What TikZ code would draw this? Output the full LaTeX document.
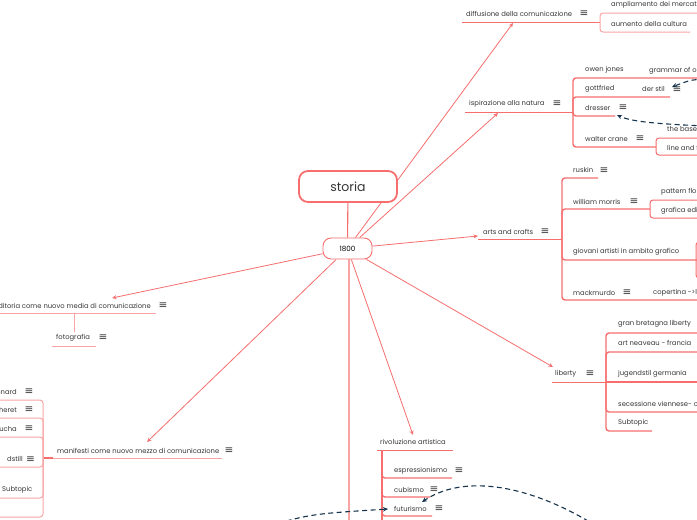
\documentclass[tikz,border=0pt]{standalone}
\usepackage{fontspec}
\setmainfont{Poppins}
\newfontfamily\symf{DejaVu Sans}
\usetikzlibrary{arrows.meta,backgrounds}
\definecolor{ml}{RGB}{246,110,110}
\definecolor{mlt}{RGB}{250,165,165}
\definecolor{nv}{RGB}{22,52,78}
\definecolor{tx}{RGB}{55,55,55}
\tikzset{
 lbl/.style={anchor=west,inner sep=0pt,text=tx,font=\fontsize{6.8}{8}\selectfont},
 lble/.style={lbl,anchor=east},
 ham/.style={inner sep=0pt,text=tx,font=\symf\fontsize{10.5}{10}\selectfont},
 conn/.style={draw=ml,line width=0.8pt,-{Stealth[length=4.5pt,width=4pt]}},
 uline/.style={draw=ml,line width=1pt,rounded corners=3pt},
 ulight/.style={draw=mlt,line width=1pt,rounded corners=3pt},
 bar/.style={draw=ml,line width=1.4pt,rounded corners=3pt},
 dlink/.style={draw=nv,line width=1.1pt,dash pattern=on 5pt off 3.5pt,-{Stealth[length=5pt,width=4.5pt]}},
}
\begin{document}
\begin{tikzpicture}[x=1pt,y=-1pt]
\useasboundingbox (0,0) rectangle (697,520);
\clip (0,0) rectangle (697,520);
% central nodes
\node[draw=ml,line width=1.8pt,fill=white,rounded corners=9pt,minimum width=98pt,minimum height=31pt,inner sep=0pt,text=tx,font=\fontsize{12.5}{14}\selectfont] (storia) at (348,186.5) {storia};
\node[draw=ml,line width=0.9pt,fill=white,rounded corners=8pt,minimum width=49pt,minimum height=21pt,inner sep=0pt,text=black,font=\fontsize{7.2}{8}\selectfont] (n1800) at (347.5,248.5) {1800};
% targets
\coordinate (tdiff) at (513,23);
\coordinate (tisp) at (498,113);
\coordinate (tarts) at (478,236);
\coordinate (tlib) at (553,367);
\coordinate (triv) at (413,435);
\coordinate (tman) at (147,442);
\coordinate (tedi) at (112,298);
\coordinate (tdown) at (349,540);
\begin{scope}[on background layer]
\fill[white] (0,0) rectangle (697,520);
\draw[draw=ml,line width=1.1pt] (storia) -- (n1800);
\draw[conn] (n1800) -- (tdiff);
\draw[conn] (n1800) -- (tisp);
\draw[conn] (n1800) -- (tarts);
\draw[conn] (n1800) -- (tlib);
\draw[conn] (n1800) -- (triv);
\draw[conn] (n1800) -- (tman);
\draw[conn] (n1800) -- (tedi);
\draw[draw=mlt,line width=1.3pt] (n1800.south -| tdown) -- (tdown);
\end{scope}
% ---------- diffusione
\node[lbl] (diff) at (466,14) {diffusione della comunicazione};
\node[ham] (hdiff) at (584,14) {≡};
\node[lbl] (ampl) at (611,5) {ampliamento dei mercati};
\node[lbl] (aum) at (611,24) {aumento della cultura};
\draw[uline] (462,22) -- (600,22);
\draw[ulight] (697,13) -- (600,13) -- (600,32) -- (690,32);
% ---------- ispirazione
\node[lbl] (isp) at (469,104) {ispirazione alla natura};
\node[ham] (hisp) at (557,104) {≡};
\node[lbl] (owen) at (585,70) {owen jones};
\node[lbl] (gram) at (649,71) {grammar of ornament};
\node[lbl] (gott) at (585,89) {gottfried};
\node[lbl] (der) at (642,89) {der stil};
\node[ham] (hder) at (677,90) {≡};
\node[lbl] (dres) at (585,108) {dresser};
\node[ham] (hdres) at (623,108) {≡};
\node[lbl] (walt) at (585,139) {walter crane};
\node[ham] (hwalt) at (640,139) {≡};
\node[lbl] (bases) at (667,129) {the bases};
\node[lbl] (linet) at (667,148) {line and form};
\draw[uline] (465,112) -- (573,112);
\draw[bar] (573,112) -- (573,78) -- (697,78);
\draw[bar] (573,112) -- (573,97) -- (670,97);
\draw[bar] (573,112) -- (573,116) -- (615,116);
\draw[bar] (573,112) -- (573,147) -- (656,147);
\draw[uline] (697,138) -- (656,138) -- (656,155) -- (697,155);
% ---------- arts and crafts
\node[lbl] (arts) at (483,232) {arts and crafts};
\node[ham] (harts) at (545,232) {≡};
\node[lbl] (rusk) at (573,170) {ruskin};
\node[ham] (hrusk) at (604,171) {≡};
\node[lbl] (wm) at (573,202) {william morris};
\node[ham] (hwm) at (634,202) {≡};
\node[lbl] (patt) at (661,192) {pattern floreali};
\node[lbl] (graf) at (661,211) {grafica editoriale};
\node[lbl] (giov) at (573,252) {giovani artisti in ambito grafico};
\node[lbl] (mack) at (573,293) {mackmurdo};
\node[ham] (hmack) at (627,293) {≡};
\node[lbl] (cop) at (653,293) {copertina ->libro};
\draw[uline] (478,239) -- (562,239);
\draw[bar] (562,239) -- (562,178) -- (598,178);
\draw[bar] (562,239) -- (562,209) -- (650,209);
\draw[bar] (562,239) -- (562,260) -- (700,260);
\draw[bar] (562,239) -- (562,300) -- (700,300);
\draw[uline] (697,200) -- (650,200) -- (650,218) -- (697,218);
\draw[uline] (705,242) -- (696,242) -- (696,278) -- (705,278);
% ---------- liberty
\node[lbl] (lib) at (555,374) {liberty};
\node[ham] (hlib) at (590,374) {≡};
\node[lbl] (gb) at (618,324) {gran bretagna liberty};
\node[lbl] (an) at (618,343) {art neaveau - francia};
\node[lbl] (jug) at (618,374) {jugendstil germania};
\node[lbl] (sec) at (618,404) {secessione viennese- c};
\node[lbl] (sub1) at (618,423) {Subtopic};
\draw[uline] (552,382) -- (606,382);
\draw[bar] (606,382) -- (606,333) -- (700,333);
\draw[bar] (606,382) -- (606,352) -- (700,352);
\draw[bar] (606,382) -- (700,382);
\draw[bar] (606,382) -- (606,412) -- (700,412);
\draw[bar] (606,382) -- (606,431) -- (652,431);
% ---------- rivoluzione artistica
\node[lbl] (riv) at (380,442) {rivoluzione artistica};
\node[lbl] (esp) at (394,471) {espressionismo};
\node[ham] (hesp) at (459,471) {≡};
\node[lbl] (cub) at (394,490) {cubismo};
\node[ham] (hcub) at (434,490) {≡};
\node[lbl] (fut) at (394,509) {futurismo};
\node[ham] (hfut) at (439,509) {≡};
\draw[uline] (377,450) -- (453,450);
\draw[bar] (382,450) -- (382,530);
\draw[bar] (382,450) -- (382,478) -- (452,478);
\draw[bar] (382,450) -- (382,497) -- (430,497);
\draw[bar] (382,450) -- (382,516) -- (432,516);
% ---------- editoria
\node[lble] (edi) at (151,306) {editoria come nuovo media di comunicazione};
\node[ham] (hedi) at (163,306) {≡};
\node[lbl] (foto) at (56,338) {fotografia};
\node[ham] (hfoto) at (103,338) {≡};
\draw[ulight] (-5,313) -- (156,313);
\draw[ulight] (74,313) -- (74,332);
\draw[ulight] (52,346) -- (96,346);
% ---------- manifesti
\node[lbl] (man) at (57,451) {manifesti come nuovo mezzo di comunicazione};
\node[ham] (hman) at (229,451) {≡};
\node[lble] (bon) at (17,392) {nnard};
\node[ham] (hbon) at (29,392) {≡};
\node[lble] (che) at (17,410) {heret};
\node[ham] (hche) at (29,410) {≡};
\node[lble] (muc) at (17,429) {ucha};
\node[ham] (hmuc) at (29,429) {≡};
\node[lble] (dst) at (23,459) {dstill};
\node[ham] (hdst) at (30.5,460) {≡};
\node[lbl] (sub2) at (2,490) {Subtopic};
\draw[ulight] (53,458) -- (222,458);
\draw[bar] (53,458) -- (43,458);
\draw[ulight] (43,458) -- (43,400) -- (-5,400);
\draw[ulight] (43,458) -- (43,418) -- (-5,418);
\draw[ulight] (43,458) -- (43,437) -- (-5,437);
\draw[ulight] (43,458) -- (43,467) -- (-5,467);
\draw[ulight] (43,458) -- (43,498) -- (-5,498);
\draw[ulight] (43,458) -- (43,517) -- (-5,517);
% ---------- dashed relations
\coordinate (dsA) at (705,79);
\coordinate (dsB) at (705,126);
\coordinate (dsC) at (610,535);
\coordinate (dsD) at (262,528);
\draw[dlink] (dsA) .. controls (690,80) .. (672,87);
\draw[dlink] (dsB) .. controls (660,124) and (632,122) .. (617,115);
\draw[dlink] (dsC) .. controls (545,490) and (470,470) .. (422,502);
\draw[dlink] (dsD) .. controls (310,514) .. (388,509);
\end{tikzpicture}
\end{document}
